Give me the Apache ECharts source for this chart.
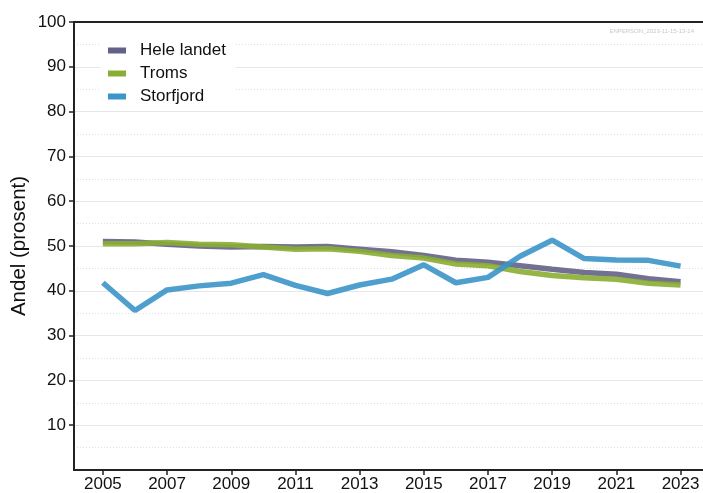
<!DOCTYPE html>
<html>
<head>
<meta charset="utf-8">
<script src="https://cdn.jsdelivr.net/npm/echarts@6/dist/echarts.min.js"></script>
<style>html,body{margin:0;padding:0;background:#fff}#c{width:703px;height:493px}</style>
</head>
<body>
<div id="c"></div>
<script>
const years = [2005,2006,2007,2008,2009,2010,2011,2012,2013,2014,2015,2016,2017,2018,2019,2020,2021,2022,2023];
const heleLandet = [51.0,50.9,50.4,50.0,49.8,49.9,49.8,49.9,49.3,48.7,47.9,46.8,46.4,45.6,44.8,44.1,43.7,42.7,42.0];
const troms = [50.5,50.5,50.8,50.4,50.3,49.8,49.3,49.4,48.8,47.9,47.3,46.0,45.6,44.3,43.4,42.9,42.6,41.7,41.3];
const storfjord = [41.8,35.6,40.2,41.1,41.7,43.6,41.2,39.4,41.3,42.6,45.8,41.8,43.0,47.7,51.3,47.2,46.9,46.8,45.5];
const xTicks = [2005,2007,2009,2011,2013,2015,2017,2019,2021,2023];
const yTicks = [10,20,30,40,50,60,70,80,90,100];
const seriesNames = ['Hele landet','Troms','Storfjord'];
const colors = ['#636187','#8aae33','#3b95c9'];

const pairs = arr => years.map((y,i)=>[y,arr[i]]);
const font = 'Liberation Sans, Arial, sans-serif';
const chart = echarts.init(document.getElementById('c'));
chart.setOption({
  animation:false,
  title:{text:'ENPERSON_2023-11-15-13-14',right:4,top:23,textStyle:{fontSize:6,color:'#c8c8c8',fontWeight:'normal',fontFamily:font}},
  legend:{
    left:100, top:38, orient:'vertical', itemGap:6, itemWidth:18, itemHeight:6,
    backgroundColor:'#fff', padding:[4,10,4,8],
    icon:'rect',
    textStyle:{fontSize:17,color:'#111',fontFamily:font,padding:[0,0,0,9]},
    data:seriesNames
  },
  grid:{left:74,right:0,top:22,bottom:23,containLabel:false,outerBoundsMode:'none'},
  xAxis:[{
    type:'value', min:2004.1, max:2023.7,
    axisLine:{show:true,lineStyle:{color:'#222',width:2}},
    axisTick:{show:true,customValues:xTicks,length:5,lineStyle:{color:'#222',width:1.5}},
    axisLabel:{customValues:xTicks,fontSize:17,color:'#111',fontFamily:font,margin:6,formatter:v=>String(v)},
    splitLine:{show:false}
  },{
    type:'value', position:'top', min:2004.1, max:2023.7,
    axisLine:{show:true,lineStyle:{color:'#222',width:2}},
    axisTick:{show:false},axisLabel:{show:false},splitLine:{show:false}
  }],
  yAxis:{
    type:'value', min:0, max:100, interval:10,
    name:'Andel (prosent)', nameLocation:'middle', nameGap:44, nameMoveOverlap:false,
    nameTextStyle:{fontSize:20.5,color:'#111',fontFamily:font},
    axisLine:{show:true,lineStyle:{color:'#222',width:2}},
    axisTick:{show:true,customValues:yTicks,length:5,lineStyle:{color:'#222',width:1.5}},
    axisLabel:{customValues:yTicks,fontSize:17,color:'#111',fontFamily:font,margin:8},
    splitLine:{show:true,lineStyle:{color:'#e6e6e6',width:1}},
    minorTick:{show:false,splitNumber:2},
    minorSplitLine:{show:true,lineStyle:{color:'#e0e0e0',width:1,type:[1,2]}}
  },
  series:[heleLandet,troms,storfjord].map((d,i)=>({
    name:seriesNames[i], type:'line', data:pairs(d), showSymbol:false, symbol:'none',
    color:colors[i],
    lineStyle:{width:5.5,color:colors[i],opacity:0.9},
    itemStyle:{color:colors[i]}
  }))
});
</script>
</body>
</html>
